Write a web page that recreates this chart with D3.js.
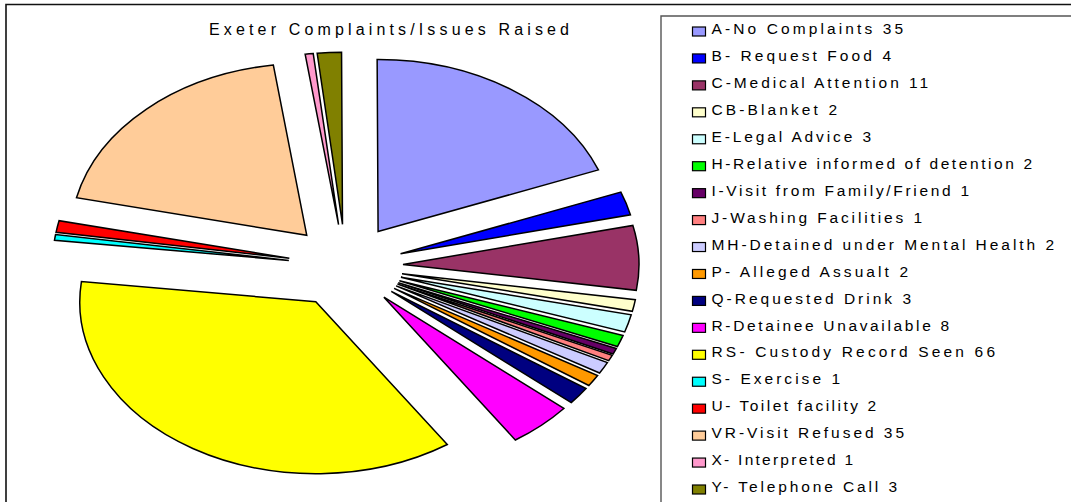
<!DOCTYPE html>
<html>
<head>
<meta charset="utf-8">
<script src="https://cdn.jsdelivr.net/npm/d3@7"></script>
<style>
  html, body { margin: 0; padding: 0; background: #fff; }
  svg { display: block; }
  text { font-family: "Liberation Sans", Arial, sans-serif; fill: #000; }
</style>
</head>
<body>
<svg id="chart"></svg>
<script>
let categories = ['A-No Complaints', 'B- Request Food', 'C-Medical Attention', 'CB-Blanket',
  'E-Legal Advice', 'H-Relative informed of detention', 'I-Visit from Family/Friend',
  'J-Washing Facilities', 'MH-Detained under Mental Health', 'P- Alleged Assualt',
  'Q-Requested Drink', 'R-Detainee Unavailable', 'RS- Custody Record Seen', 'S- Exercise',
  'U- Toilet facility', 'VR-Visit Refused', 'X- Interpreted', 'Y- Telephone Call']
let counts = [35, 4, 11, 2, 3, 2, 1, 1, 2, 2, 3, 8, 66, 1, 2, 35, 1, 3]
let colours = ['#9999ff', '#0000ff', '#993366', '#ffffcc', '#ccffff', '#00ff00', '#660066',
  '#ff8080', '#ccccff', '#ff9900', '#000080', '#ff00ff', '#ffff00', '#00ffff', '#ff0000',
  '#ffcc99', '#ff99cc', '#808000']
let title = 'Exeter Complaints/Issues Raised'

// where each legend label stops in the picture, the old renderer spaced letters unevenly
let labelEnds = [903, 891, 928, 837, 871, 1032, 969, 922, 1054, 908, 911, 949, 995, 840, 876, 904, 853, 897]

let width = 1071
let height = 502

// the pie is squashed, so draw it round and scale y
let radiusX = 236
let radiusY = 172
let centre = [345.7, 266]
let explode = 0.243
let labelStart = 711.5

let svg = d3.select('#chart')
  .attr('width', width)
  .attr('height', height)

// outer frame and legend frame run off the picture
svg.append('path')
  .attr('d', 'M6,' + (height + 2) + 'V4.5H' + (width + 2))
  .attr('fill', 'none')
  .attr('stroke', '#111')
  .attr('stroke-width', 1.6)

svg.append('path')
  .attr('d', 'M661,' + (height + 2) + 'V16H' + (width + 2))
  .attr('fill', 'none')
  .attr('stroke', '#555')
  .attr('stroke-width', 1.4)

svg.append('text')
  .attr('x', 209)
  .attr('y', 34.5)
  .attr('font-size', 16)
  .attr('textLength', 360)
  .attr('lengthAdjust', 'spacing')
  .text(title)

let slices = d3.pie()
  .sort(null)
  .startAngle(-0.004)
  .endAngle(2 * Math.PI - 0.004)(counts)

let arc = d3.arc()
  .innerRadius(0)
  .outerRadius(radiusX)

svg.selectAll('path.slice')
  .data(slices)
  .enter()
  .append('path')
  .attr('class', 'slice')
  .attr('d', arc)
  .attr('transform', d => {
    let mid = (d.startAngle + d.endAngle) / 2
    let x = centre[0] + Math.sin(mid) * radiusX * explode
    let y = centre[1] - Math.cos(mid) * radiusY * explode
    return 'translate(' + [x, y] + ') scale(1,' + (radiusY / radiusX) + ')'
  })
  .attr('fill', (d, i) => colours[i])
  .attr('stroke', '#000')
  .attr('stroke-width', 1.5)
  .attr('stroke-linejoin', 'miter')
  .attr('vector-effect', 'non-scaling-stroke')

// legend rows
let legendY = d3.scalePoint()
  .domain(categories)
  .range([29, 487])

let rows = svg.selectAll('g.row')
  .data(categories)
  .enter()
  .append('g')
  .attr('class', 'row')
  .attr('transform', d => 'translate(0,' + legendY(d) + ')')

rows.append('rect')
  .attr('x', 692.5)
  .attr('y', -2)
  .attr('width', 13)
  .attr('height', 9)
  .attr('fill', (d, i) => colours[i])
  .attr('stroke', '#000')
  .attr('stroke-width', 1.2)

rows.append('text')
  .attr('x', labelStart)
  .attr('y', 5.2)
  .attr('font-size', 15.5)
  .attr('textLength', (d, i) => labelEnds[i] - labelStart)
  .attr('lengthAdjust', 'spacing')
  .text((d, i) => d + ' ' + counts[i])
</script>
</body>
</html>
